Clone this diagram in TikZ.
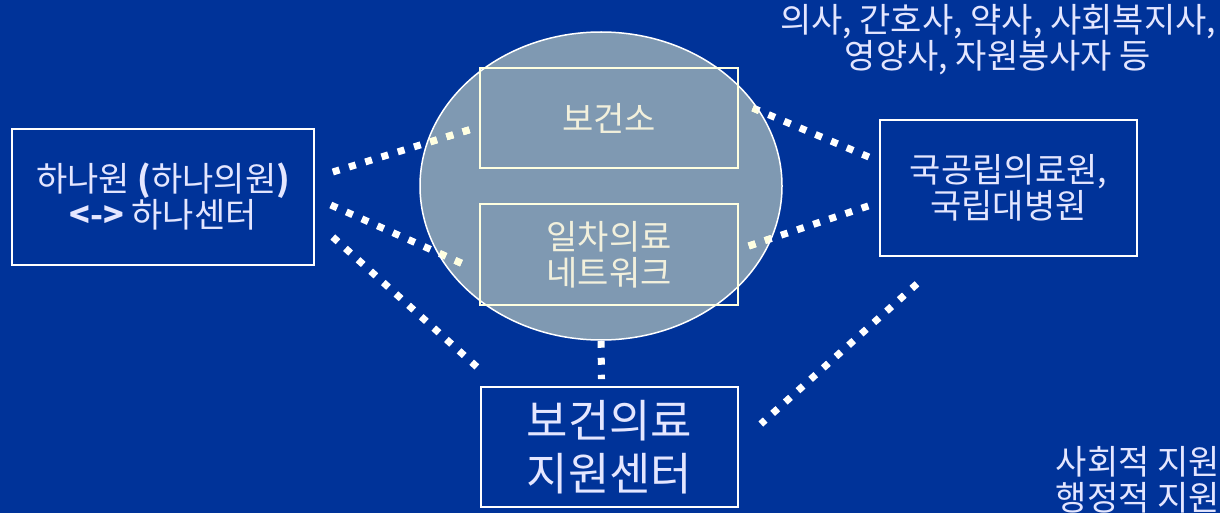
\documentclass[tikz,border=0pt]{standalone}
\usepackage{fontspec}
\setmainfont{Noto Sans CJK KR}
\usetikzlibrary{shapes.geometric}
\definecolor{bgblue}{HTML}{003399}
\definecolor{ellfill}{HTML}{7F99B2}
\definecolor{cream}{HTML}{FFFFE0}
\definecolor{lav}{HTML}{E4E6FF}
\definecolor{creamtext}{HTML}{F2F0DC}
\tikzset{
  bluebox/.style={draw=white, line width=1.6pt, inner sep=0pt, text=lav, align=center},
  innerbox/.style={draw=cream, line width=1.6pt, inner sep=0pt, text=creamtext, align=center},
  dotline/.style={draw=white, line width=7pt, dash pattern=on 7pt off 10pt, line cap=butt},
  dotlinein/.style={draw=cream, line width=7pt, dash pattern=on 7pt off 10pt, line cap=butt},
  lbl/.style={text=lav, align=center, inner sep=0pt},
  boxfont/.style={font=\fontsize{34}{36}\selectfont},
  bigfont/.style={font=\fontsize{45}{53}\selectfont}
}
\begin{document}
\begin{tikzpicture}[x=1pt,y=1pt]
\useasboundingbox (0,0) rectangle (1220,-513);
\fill[bgblue] (0,0) rectangle (1220,-513);
% ellipse
\node[draw=white, line width=1.5pt, fill=ellfill, ellipse, minimum width=362, minimum height=308, inner sep=0pt] (el) at (601,-186) {};
% boxes
\node[innerbox, boxfont, minimum width=258, minimum height=100] (bgs) at (609,-118) {보건소};
\node[innerbox, boxfont, minimum width=258, minimum height=101] (ilcha) at (609,-254.5) {일차의료\\네트워크};
\node[bluebox, boxfont, minimum width=302, minimum height=136] (hana) at (163,-197) {하나원 \textbf{(}하나의원\textbf{)}\\\textbf{<->} 하나센터};
\node[bluebox, boxfont, minimum width=257, minimum height=136] (gk) at (1008.5,-188) {국공립의료원,\\국립대병원};
\node[bluebox, bigfont, minimum width=257, minimum height=120] (jc) at (609.5,-447) {보건의료\\지원센터};
% labels
\node[lbl, boxfont] (staff) at (998,-40) {의사, 간호사, 약사, 사회복지사,\\영양사, 자원봉사자 등};
\node[lbl, boxfont, align=right, anchor=north east] (support) at (1220,-446) {사회적 지원\\행정적 지원};
% connectors
\draw[dotline] ([shift={(18,25)}]hana.east) -- ([shift={(-4,-10)}]bgs.west);
\draw[dotline] ([shift={(16,-8)}]hana.east) -- ([shift={(-16,-9.5)}]ilcha.west);
\draw[dotline] ([shift={(18,-40)}]hana.east) -- ([shift={(-3,19)}]jc.north west);
\draw[dotline] ([shift={(14,10)}]bgs.east) -- ([shift={(-8,30)}]gk.west);
\draw[dotline] ([shift={(10,8.5)}]ilcha.east) -- ([shift={(-8,-17)}]gk.west);
\draw[dotline] (el.south) -- ([shift={(-8,7)}]jc.north);
\draw[dotline] ([shift={(-91.5,-27)}]gk.south) -- ([shift={(22,23)}]jc.east);
% parts inside the ellipse shown in cream
\begin{scope}
\clip (601,-186) ellipse [x radius=180, y radius=153];
\draw[dotlinein] ([shift={(18,25)}]hana.east) -- ([shift={(-4,-10)}]bgs.west);
\draw[dotlinein] ([shift={(16,-8)}]hana.east) -- ([shift={(-16,-9.5)}]ilcha.west);
\draw[dotlinein] ([shift={(14,10)}]bgs.east) -- ([shift={(-8,30)}]gk.west);
\draw[dotlinein] ([shift={(10,8.5)}]ilcha.east) -- ([shift={(-8,-17)}]gk.west);
\end{scope}
\end{tikzpicture}
\end{document}
